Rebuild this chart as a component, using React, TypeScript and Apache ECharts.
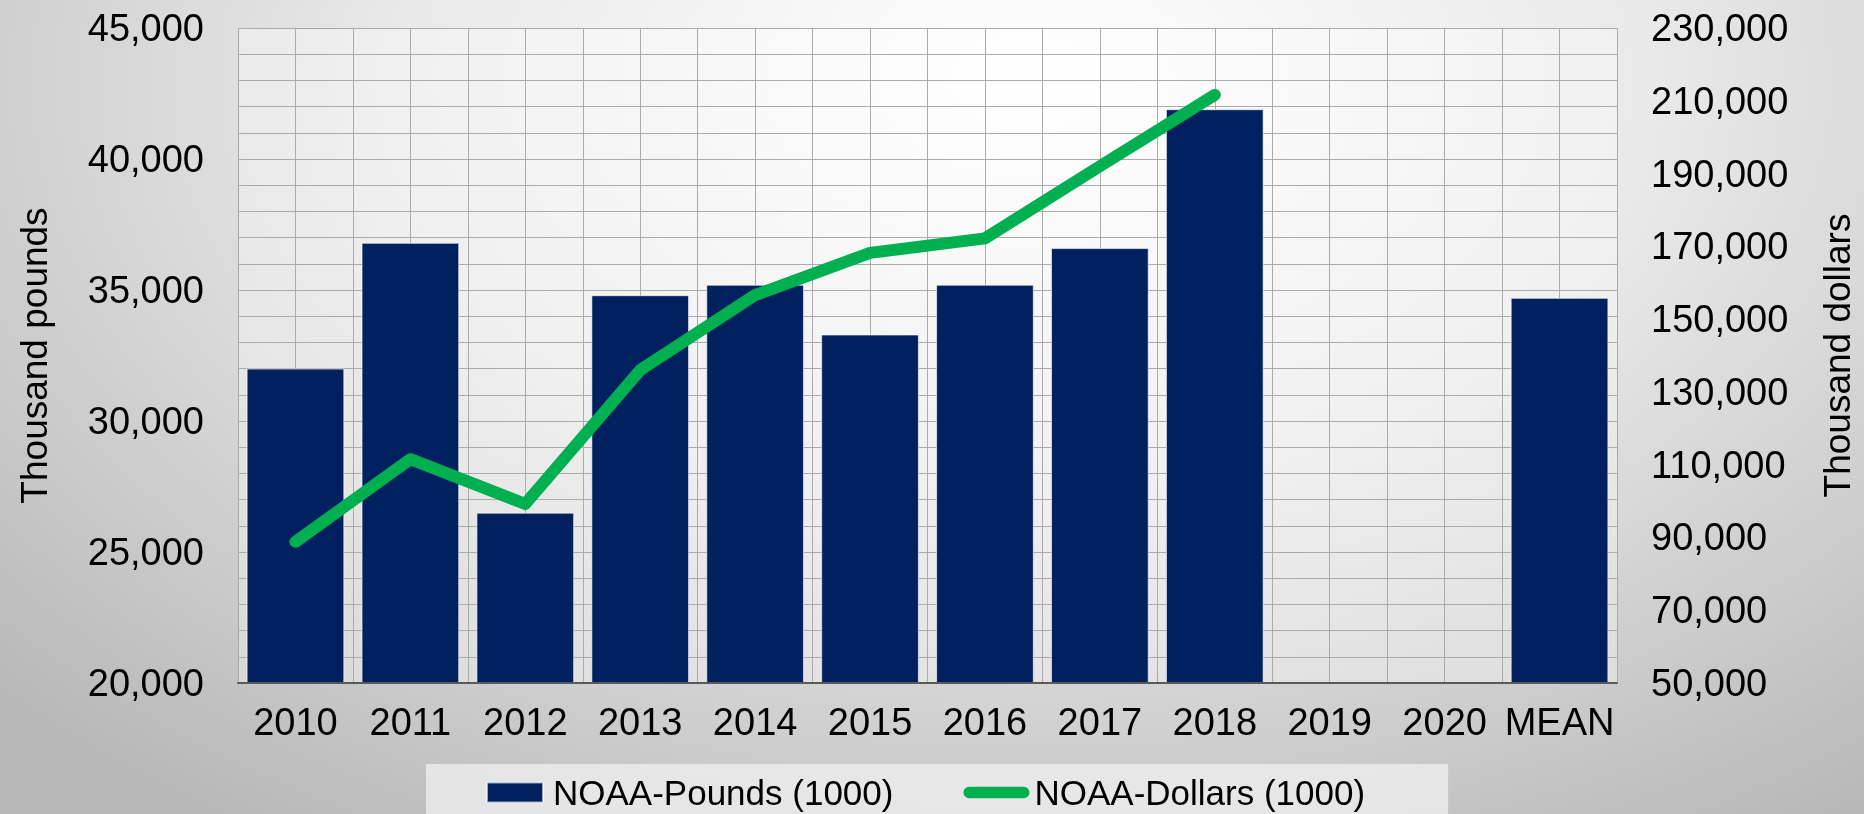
import React, { useEffect, useRef } from 'react';
import * as echarts from 'echarts';

const categories = ['2010', '2011', '2012', '2013', '2014', '2015', '2016', '2017', '2018', '2019', '2020', 'MEAN'];
const poundsValues = [32000, 36800, 26500, 34800, 35200, 33300, 35200, 36600, 41900, null, null, 34700];
const dollarsValues = [88800, 111500, 99200, 136000, 156600, 168200, 172200, 192000, 211600, null, null, null];
const leftTicks = [20000, 25000, 30000, 35000, 40000, 45000];
const rightTicks = [50000, 70000, 90000, 110000, 130000, 150000, 170000, 190000, 210000, 230000];
const seriesNames = ['NOAA-Pounds (1000)', 'NOAA-Dollars (1000)'];
const axisNames = ['Thousand pounds', 'Thousand dollars'];

const FONT = '"Liberation Sans", Arial, Helvetica, sans-serif';
const GRID_COLOR = '#ababab';

const fmt = (v: number) => v.toLocaleString('en-US');

export default function App() {
  const ref = useRef<HTMLDivElement>(null);

  useEffect(() => {
    if (!ref.current) return;
    const chart = echarts.init(ref.current, null, { renderer: 'svg' });
    const leftInterval = leftTicks[1] - leftTicks[0];
    const option: any = {
      animation: false,
      backgroundColor: 'transparent',
      textStyle: { fontFamily: FONT },
      grid: {
        left: 238,
        right: 241,
        top: 28,
        bottom: 131,
        show: true,
        backgroundColor: 'rgba(255,255,255,0.35)',
        borderWidth: 0,
      },
      legend: {
        top: 764,
        left: 426,
        padding: [11, 83, 40, 60],
        itemGap: 70,
        itemWidth: 66,
        itemHeight: 20,
        backgroundColor: 'rgba(240,240,240,0.75)',
        textStyle: { fontSize: 35, color: '#000', fontFamily: FONT },
        data: [
          { name: seriesNames[0], icon: 'path://M0 0H56V20H0Z' },
          { name: seriesNames[1], icon: 'path://M6 0H64A6 6 0 0 1 64 12H6A6 6 0 0 1 6 0Z' },
        ],
      },
      xAxis: [
        {
          type: 'category',
          data: categories,
          boundaryGap: true,
          axisLine: { show: true, lineStyle: { color: '#595959', width: 2 } },
          axisTick: { show: false },
          splitLine: { show: false },
          axisLabel: { interval: 0, fontSize: 38, color: '#000', margin: 20, fontFamily: FONT },
          z: 5,
        },
        {
          type: 'value',
          min: 0,
          max: categories.length * 2,
          interval: 1,
          position: 'bottom',
          axisLine: { show: false },
          axisTick: { show: false },
          axisLabel: { show: false },
          splitLine: { show: true, lineStyle: { color: GRID_COLOR, width: 1 } },
        },
      ],
      yAxis: [
        {
          type: 'value',
          position: 'left',
          min: leftTicks[0],
          max: leftTicks[leftTicks.length - 1],
          interval: leftInterval,
          name: axisNames[0],
          nameLocation: 'middle',
          nameGap: 185,
          nameRotate: 90,
          nameTextStyle: { fontSize: 37, color: '#000', fontFamily: FONT },
          axisLine: { show: false },
          axisTick: { show: false },
          axisLabel: { fontSize: 38, color: '#000', margin: 34, formatter: (v: number) => fmt(v), fontFamily: FONT },
          splitLine: { show: true, lineStyle: { color: GRID_COLOR, width: 1 } },
          minorTick: { show: false, splitNumber: 5 },
          minorSplitLine: { show: true, lineStyle: { color: GRID_COLOR, width: 1 } },
        },
        {
          type: 'value',
          position: 'right',
          min: rightTicks[0],
          max: rightTicks[rightTicks.length - 1],
          name: axisNames[1],
          nameLocation: 'middle',
          nameGap: 202,
          nameRotate: 90,
          nameTextStyle: { fontSize: 37, color: '#000', fontFamily: FONT },
          axisLine: { show: false },
          axisTick: { show: false },
          axisLabel: {
            fontSize: 38,
            color: '#000',
            margin: 34,
            customValues: rightTicks,
            formatter: (v: number) => fmt(v),
            fontFamily: FONT,
          },
          splitLine: { show: false },
        },
      ],
      series: [
        {
          name: seriesNames[0],
          type: 'bar',
          xAxisIndex: 0,
          yAxisIndex: 0,
          data: poundsValues,
          barWidth: '85%',
          itemStyle: { color: '#002060', borderColor: 'rgba(255,255,255,0.6)', borderWidth: 1 },
          z: 3,
        },
        {
          name: seriesNames[1],
          type: 'line',
          xAxisIndex: 0,
          yAxisIndex: 1,
          data: dollarsValues,
          symbol: 'none',
          connectNulls: false,
          itemStyle: { color: '#00b050' },
          lineStyle: { color: '#00b050', width: 12, cap: 'round', join: 'round' },
          z: 4,
        },
      ],
    };
    chart.setOption(option);
    return () => chart.dispose();
  }, []);

  return (
    <div
      style={{
        position: 'fixed',
        left: 0,
        top: 0,
        width: 1864,
        height: 814,
        background:
          'radial-gradient(ellipse 75% 110% at 55% 10%, #ffffff 0%, #e9e9e9 45%, #b8b8b8 100%)',
      }}
    >
      <div ref={ref} style={{ width: 1864, height: 814 }} />
    </div>
  );
}
